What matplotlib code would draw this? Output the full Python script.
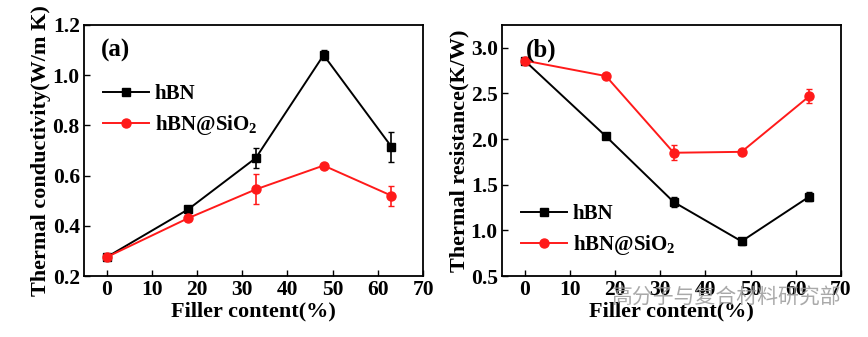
import matplotlib
matplotlib.use("Agg")
import matplotlib.pyplot as plt
from matplotlib.lines import Line2D

filler = [0, 18, 33, 48, 63]
tc_hbn = [0.275, 0.465, 0.67, 1.08, 0.715]
tc_hbn_err = [0.005, 0.015, 0.04, 0.02, 0.06]
tc_sio2 = [0.275, 0.43, 0.545, 0.64, 0.52]
tc_sio2_err = [0.005, 0.012, 0.06, 0.005, 0.04]

tr_hbn = [2.86, 2.03, 1.31, 0.88, 1.37]
tr_hbn_err = [0.01, 0.01, 0.05, 0.04, 0.05]
tr_sio2 = [2.86, 2.69, 1.85, 1.86, 2.47]
tr_sio2_err = [0.01, 0.03, 0.08, 0.01, 0.08]

xticks = [0, 10, 20, 30, 40, 50, 60, 70]
series_labels = ['hBN', 'hBN@SiO$_2$']

plt.rcParams['font.family'] = ['Liberation Serif']
plt.rcParams['font.weight'] = 'bold'
plt.rcParams['mathtext.fontset'] = 'custom'
plt.rcParams['mathtext.rm'] = 'Liberation Serif:bold'
plt.rcParams['mathtext.bf'] = 'Liberation Serif:bold'

BLACK = 'black'
RED = '#ff1a1a'

fig = plt.figure(figsize=(8.68, 3.37), dpi=100)
ax1 = fig.add_axes([0.0968, 0.181, 0.3906, 0.745])
ax2 = fig.add_axes([0.5783, 0.181, 0.3906, 0.745])

def draw(ax, y1, e1, y2, e2):
    ax.errorbar(filler, y1, yerr=e1, color=BLACK, marker='s', ms=6, lw=1.4,
                capsize=2.5, elinewidth=1.2)
    ax.errorbar(filler, y2, yerr=e2, color=RED, marker='o', ms=6.5, lw=1.4,
                capsize=2.5, elinewidth=1.2)
    ax.set_xlim(-5, 70)
    ax.set_xticks(xticks)
    ax.tick_params(direction='in', length=4, width=1, labelsize=15.5, top=False, right=False, pad=3)
    for s in ax.spines.values():
        s.set_linewidth(1.3)
    ax.set_xlabel('Filler content(%)', fontsize=16, fontweight='bold', labelpad=1)
    for lab in ax.get_xticklabels() + ax.get_yticklabels():
        lab.set_fontweight('bold')

handles = [Line2D([], [], color=BLACK, marker='s', ms=6, lw=1.4),
           Line2D([], [], color=RED, marker='o', ms=6.5, lw=1.4)]

draw(ax1, tc_hbn, tc_hbn_err, tc_sio2, tc_sio2_err)
ax1.set_ylim(0.2, 1.2)
ax1.set_yticks([0.2, 0.4, 0.6, 0.8, 1.0, 1.2])
ax1.set_ylabel('Thermal conductivity(W/m K)', fontsize=16, fontweight='bold', labelpad=1)
ax1.text(0.05, 0.90, '(a)', transform=ax1.transAxes, fontsize=18, fontweight='bold', va='center')
ax1.legend(handles, series_labels, loc='upper left', bbox_to_anchor=(0.0, 0.84), frameon=False,
           fontsize=15, handlelength=2.2, handletextpad=0.3, labelspacing=0.45)

draw(ax2, tr_hbn, tr_hbn_err, tr_sio2, tr_sio2_err)
ax2.set_ylim(0.5, 3.25)
ax2.set_yticks([0.5, 1.0, 1.5, 2.0, 2.5, 3.0])
ax2.set_ylabel('Thermal resistance(K/W)', fontsize=16, fontweight='bold', labelpad=1)
ax2.text(0.07, 0.90, '(b)', transform=ax2.transAxes, fontsize=18, fontweight='bold', va='center')
ax2.legend(handles, series_labels, loc='lower left', bbox_to_anchor=(0.0, 0.0), frameon=False,
           fontsize=15, handlelength=2.2, handletextpad=0.3, labelspacing=0.45)

for a in (ax1, ax2):
    for lab in a.get_xticklabels() + a.get_yticklabels():
        lab.set_fontweight('bold')

fig.text(0.705, 0.118, '高分子与复合材料研究部', family=['Noto Sans CJK SC', 'DejaVu Sans'],
         fontsize=15, color='#9a9a9a', alpha=0.85, va='center', weight='normal')

fig.savefig('out.png', dpi=100)
